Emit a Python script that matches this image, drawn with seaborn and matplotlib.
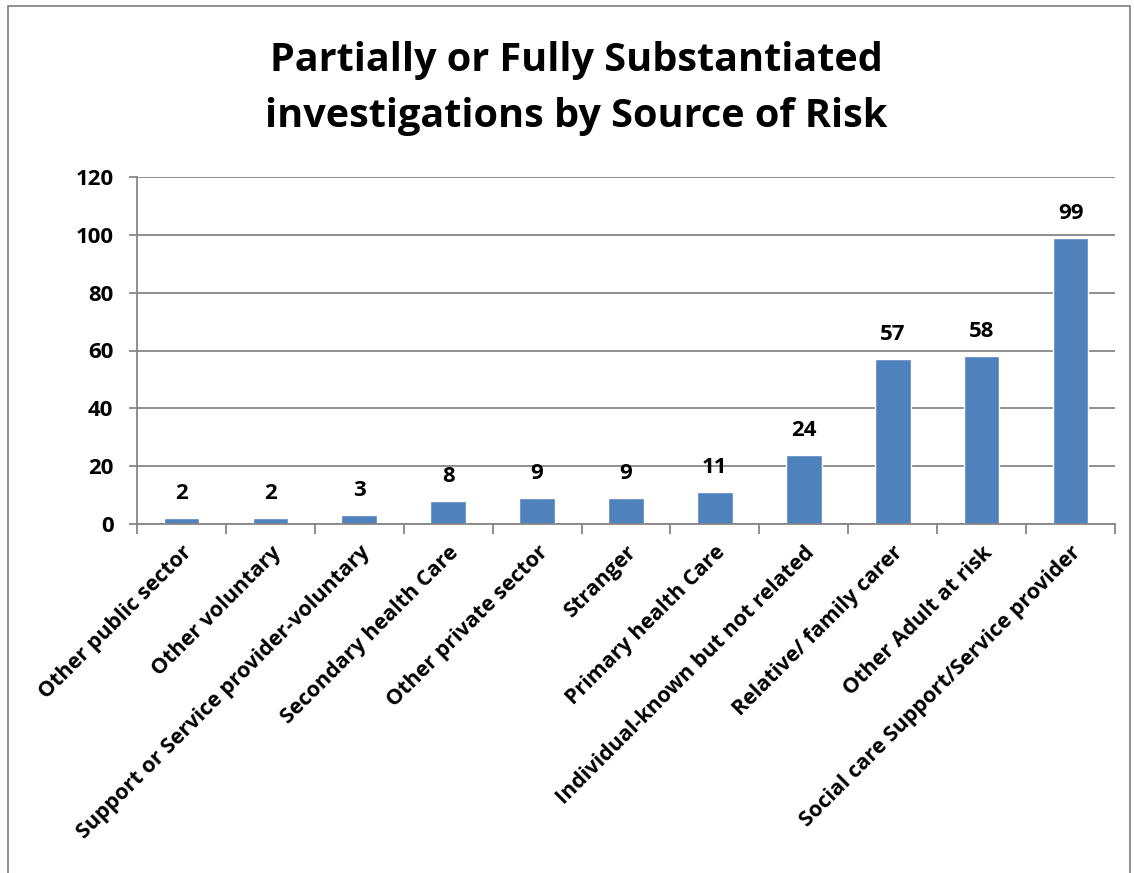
import matplotlib
matplotlib.use("Agg")
import matplotlib.pyplot as plt
import seaborn as sns
import pandas as pd
from matplotlib.patches import Rectangle

categories = ["Other public sector", "Other voluntary", "Support or Service provider-voluntary",
              "Secondary health Care", "Other private sector", "Stranger", "Primary health Care",
              "Individual-known but not related", "Relative/ family carer", "Other Adult at risk",
              "Social care Support/Service provider"]
values = [2, 2, 3, 8, 9, 9, 11, 24, 57, 58, 99]
yticks = [0, 20, 40, 60, 80, 100, 120]

sns.set_theme(style="white")
plt.rcParams['font.family'] = ['Open Sans', 'DejaVu Sans']
plt.rcParams['text.color'] = 'black'
plt.rcParams['xtick.color'] = 'black'
plt.rcParams['ytick.color'] = 'black'

df = pd.DataFrame({"cat": categories, "val": values})

fig = plt.figure(figsize=(11.34, 8.73), dpi=100)
ax = fig.add_axes([137/1134, 1 - 524/873, (1115-137)/1134, (524-177)/873])

sns.barplot(data=df, x="cat", y="val", color="#4F81BD", saturation=1, width=0.4, ax=ax)

ax.set_ylim(0, 120)
ax.set_xlim(-0.5, len(categories) - 0.5)
ax.set_yticks(yticks)
ax.set_yticklabels([str(t) for t in yticks], fontsize=16, fontweight="bold")
ax.yaxis.grid(True, color="#868686", linewidth=1.3)
ax.set_axisbelow(True)
ax.set_xlabel("")
ax.set_ylabel("")

for s in ["top", "right"]:
    ax.spines[s].set_visible(False)
for s in ["left", "bottom"]:
    ax.spines[s].set_color("#868686")
    ax.spines[s].set_linewidth(1.3)

ax.tick_params(axis="y", which="major", direction="out", length=6, width=1.3,
               color="#868686", left=True, pad=11, labelcolor="black")
ax.set_xticks(range(len(categories)))
ax.set_xticklabels(categories, rotation=45, ha="right", rotation_mode="anchor",
                   fontsize=15.5, fontweight="bold")
ax.tick_params(axis="x", which="major", length=0, pad=13, labelcolor="black")
ax.set_xticks([i - 0.5 for i in range(len(categories) + 1)], minor=True)
ax.tick_params(axis="x", which="minor", direction="out", length=7, width=1.3,
               color="#868686", bottom=True)

for i, v in enumerate(values):
    ax.annotate(str(v), (i, v), xytext=(0, 10), textcoords="offset points",
                ha="center", va="bottom", fontsize=16, fontweight="bold", color="black")

fig.text(0.508, 1 - 60/873, "Partially or Fully Substantiated", ha="center", va="center",
         fontsize=28.5, fontweight="bold", color="black")
fig.text(0.508, 1 - 117/873, "investigations by Source of Risk", ha="center", va="center",
         fontsize=28.5, fontweight="bold", color="black")

fig.patches.append(Rectangle((8/1134, -0.05), (1130-8)/1134, 1.05 - 6/873,
                             transform=fig.transFigure, fill=False,
                             edgecolor="#868686", linewidth=1.3))

fig.savefig("out.png", dpi=100, facecolor="white")
